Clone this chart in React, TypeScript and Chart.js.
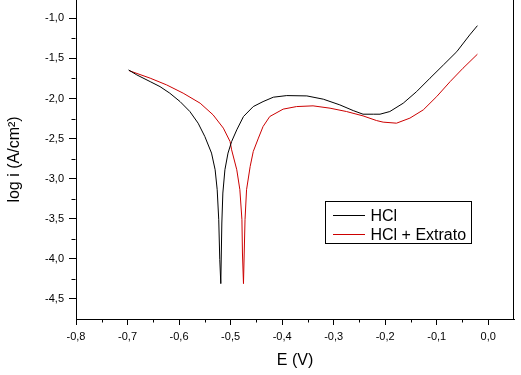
import React, { useEffect, useRef } from 'react';
import { Chart, registerables } from 'chart.js';

Chart.register(...registerables);

const FONT = '"Liberation Sans", Arial, sans-serif';

const seriesLabels = ['HCl', 'HCl + Extrato'];
const seriesColors = ['#000000', '#cc0000'];

// HCl
const hclE = [
  -0.698, -0.682, -0.656, -0.637, -0.618, -0.598, -0.579, -0.563, -0.550, -0.537,
  -0.530, -0.526, -0.523, -0.521, -0.519, -0.517, -0.515, -0.511, -0.505, -0.498,
  -0.488, -0.475, -0.456, -0.437, -0.417, -0.391, -0.352, -0.320, -0.288, -0.262,
  -0.243, -0.223, -0.210, -0.191, -0.165, -0.139, -0.113, -0.087, -0.061, -0.036, -0.021,
];
const hclLogI = [
  -1.644, -1.706, -1.790, -1.852, -1.934, -2.039, -2.163, -2.308, -2.474, -2.681,
  -2.889, -3.138, -3.512, -4.010, -4.309, -3.553, -3.179, -2.889, -2.681, -2.537,
  -2.391, -2.225, -2.101, -2.039, -1.984, -1.964, -1.968, -2.009, -2.080, -2.151,
  -2.196, -2.196, -2.196, -2.163, -2.059, -1.914, -1.747, -1.582, -1.416, -1.208, -1.092,
];

// HCl + Extrato
const extE = [
  -0.697, -0.656, -0.624, -0.592, -0.559, -0.534, -0.514, -0.501, -0.498, -0.488,
  -0.482, -0.478, -0.477, -0.475, -0.472, -0.469, -0.462, -0.456, -0.446, -0.437,
  -0.424, -0.398, -0.372, -0.340, -0.307, -0.275, -0.243, -0.217, -0.204, -0.178,
  -0.152, -0.126, -0.100, -0.074, -0.049, -0.021,
];
const extLogI = [
  -1.653, -1.747, -1.831, -1.934, -2.059, -2.204, -2.370, -2.537, -2.640, -2.889,
  -3.138, -3.512, -3.927, -4.309, -3.512, -3.138, -2.848, -2.661, -2.494, -2.350,
  -2.225, -2.133, -2.101, -2.092, -2.121, -2.163, -2.217, -2.275, -2.295, -2.308,
  -2.245, -2.142, -1.976, -1.790, -1.623, -1.448,
];

const xTickValues = [-0.8, -0.7, -0.6, -0.5, -0.4, -0.3, -0.2, -0.1, 0.0];
const xMinorTicks = [-0.75, -0.65, -0.55, -0.45, -0.35, -0.25, -0.15, -0.05];
const yTickValues = [-1.0, -1.5, -2.0, -2.5, -3.0, -3.5, -4.0, -4.5];
const yMinorTicks = [-1.25, -1.75, -2.25, -2.75, -3.25, -3.75, -4.25];

const xMin = -0.8;
const xMax = 0.05;
const yMin = -4.75;
const yMax = -0.772;

const fmt = (v: number) => {
  const s = Math.abs(v) < 1e-9 ? '0.0' : v.toFixed(1);
  return s.replace('.', ',');
};

const extrasPlugin = {
  id: 'extras',
  afterDraw(chart: any) {
    const { ctx, chartArea, scales } = chart;
    const xs = scales.x;
    const ys = scales.y;
    ctx.save();
    ctx.strokeStyle = '#000';
    ctx.lineWidth = 1;
    // right border
    ctx.beginPath();
    const rx = Math.round(chartArea.right) - 0.5;
    ctx.moveTo(rx, chartArea.top);
    ctx.lineTo(rx, chartArea.bottom);
    ctx.stroke();
    // minor ticks
    ctx.beginPath();
    const by = Math.round(chartArea.bottom) + 0.5;
    xMinorTicks.forEach((v) => {
      const px = Math.round(xs.getPixelForValue(v)) + 0.5;
      ctx.moveTo(px, by);
      ctx.lineTo(px, by + 3);
    });
    const lx = Math.round(chartArea.left) - 0.5;
    yMinorTicks.forEach((v) => {
      const py = Math.round(ys.getPixelForValue(v)) + 0.5;
      ctx.moveTo(lx, py);
      ctx.lineTo(lx - 4, py);
    });
    ctx.stroke();

    // legend box
    const bx = 325.5;
    const bt = 201.5;
    const bw = 146;
    const bh = 42;
    ctx.fillStyle = '#fff';
    ctx.fillRect(bx, bt, bw, bh);
    ctx.strokeStyle = '#000';
    ctx.strokeRect(bx, bt, bw, bh);
    ctx.font = `16px ${FONT}`;
    ctx.textBaseline = 'middle';
    ctx.textAlign = 'left';
    const rows = [215.5, 234.5];
    chart.data.datasets.forEach((ds: any, i: number) => {
      const y = rows[i];
      ctx.strokeStyle = ds.borderColor;
      ctx.beginPath();
      ctx.moveTo(333, y);
      ctx.lineTo(365, y);
      ctx.stroke();
      ctx.fillStyle = '#000';
      ctx.fillText(ds.label, 370.5, y + 1);
    });
    ctx.restore();
  },
};

export default function App() {
  const ref = useRef<HTMLCanvasElement | null>(null);

  useEffect(() => {
    document.body.style.margin = '0';
    if (!ref.current) return;
    const toPts = (xs: number[], ys: number[]) => xs.map((x, i) => ({ x, y: ys[i] }));
    const chart = new Chart(ref.current, {
      type: 'line',
      data: {
        datasets: [
          {
            label: seriesLabels[0],
            data: toPts(hclE, hclLogI),
            borderColor: seriesColors[0],
            borderWidth: 1,
            pointRadius: 0,
            tension: 0,
            fill: false,
          },
          {
            label: seriesLabels[1],
            data: toPts(extE, extLogI),
            borderColor: seriesColors[1],
            borderWidth: 1,
            pointRadius: 0,
            tension: 0,
            fill: false,
          },
        ],
      },
      options: {
        animation: false,
        responsive: false,
        devicePixelRatio: 1,
        layout: { padding: { top: 0, right: 7, left: 0, bottom: 0 } },
        plugins: {
          legend: { display: false },
          tooltip: { enabled: false },
        },
        scales: {
          x: {
            type: 'linear',
            min: xMin,
            max: xMax,
            afterBuildTicks: (scale: any) => {
              scale.ticks = xTickValues.map((v) => ({ value: v }));
            },
            afterFit: (scale: any) => {
              scale.height = 56;
              scale.paddingLeft = 0;
              scale.paddingRight = 0;
            },
            ticks: {
              callback: (v: any) => fmt(Number(v)),
              color: '#000',
              font: { family: FONT, size: 11 },
              padding: 5,
              maxRotation: 0,
              autoSkip: false,
            },
            grid: {
              drawOnChartArea: false,
              drawTicks: true,
              tickLength: 6,
              tickColor: '#000',
            },
            border: { display: true, color: '#000', width: 1 },
            title: {
              display: true,
              text: 'E (V)',
              color: '#000',
              font: { family: FONT, size: 16 },
              padding: { top: 0, bottom: 5 },
            },
          },
          y: {
            type: 'linear',
            min: yMin,
            max: yMax,
            afterBuildTicks: (scale: any) => {
              scale.ticks = yTickValues.map((v) => ({ value: v }));
            },
            afterFit: (scale: any) => {
              scale.width = 76;
              scale.paddingTop = 0;
              scale.paddingBottom = 0;
            },
            ticks: {
              callback: (v: any) => fmt(Number(v)),
              color: '#000',
              font: { family: FONT, size: 11 },
              padding: 5,
              autoSkip: false,
            },
            grid: {
              drawOnChartArea: false,
              drawTicks: true,
              tickLength: 7,
              tickColor: '#000',
            },
            border: { display: true, color: '#000', width: 1 },
            title: {
              display: true,
              text: 'log i (A/cm²)',
              color: '#000',
              font: { family: FONT, size: 16 },
              padding: { top: 5, bottom: 0 },
            },
          },
        },
      },
      plugins: [extrasPlugin],
    } as any);
    return () => chart.destroy();
  }, []);

  return (
    <div style={{ width: 521, height: 375, background: '#fff' }}>
      <canvas ref={ref} width={521} height={375} style={{ display: 'block' }} />
    </div>
  );
}
